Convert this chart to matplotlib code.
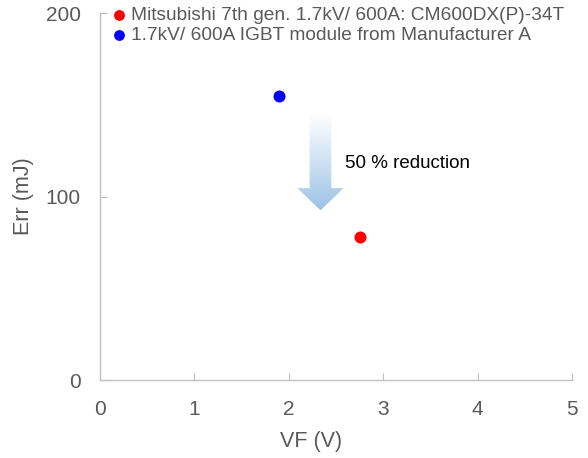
import matplotlib
matplotlib.use("Agg")
import matplotlib.pyplot as plt
import numpy as np
from matplotlib.patches import Polygon

plt.rcParams['font.family'] = ['Liberation Sans', 'DejaVu Sans']

series_names = ["Mitsubishi 7th gen. 1.7kV/ 600A: CM600DX(P)-34T",
                "1.7kV/ 600A IGBT module from Manufacturer A"]
series_vf = [2.75, 1.9]
series_err = [78, 155]
series_colors = ["#ff0000", "#0000ff"]
x_ticks = [0, 1, 2, 3, 4, 5]
y_ticks = [0, 100, 200]
annotation_text = "50 % reduction"

fig = plt.figure(figsize=(5.88, 4.58), dpi=100)
ax = fig.add_axes([0.170, 0.170, 0.803, 0.8016])
ax.set_xlim(0, 5)
ax.set_ylim(0, 200)

for name, x, y, c in zip(series_names, series_vf, series_err, series_colors):
    ax.scatter([x], [y], s=75, color=c, label=name, zorder=3, linewidths=0)

# gradient arrow
ax_x0, ax_y_top, ax_y_tip, ax_y_head = 2.335, 144.5, 92.5, 104.6
shaft_hw, head_hw = 0.115, 0.245
verts = [(ax_x0 - shaft_hw, ax_y_top), (ax_x0 + shaft_hw, ax_y_top),
         (ax_x0 + shaft_hw, ax_y_head), (ax_x0 + head_hw, ax_y_head),
         (ax_x0, ax_y_tip), (ax_x0 - head_hw, ax_y_head),
         (ax_x0 - shaft_hw, ax_y_head)]
poly = Polygon(verts, closed=True, facecolor='none', edgecolor='none')
ax.add_patch(poly)
grad = np.linspace(0, 1, 256).reshape(-1, 1)
top_c = np.array([1.0, 1.0, 1.0])
bot_c = np.array([0x9d, 0xc3, 0xe6]) / 255.0
img = top_c[None, None, :] * (1 - grad[:, :, None]) + bot_c[None, None, :] * grad[:, :, None]
im = ax.imshow(img, extent=[ax_x0 - head_hw, ax_x0 + head_hw, ax_y_tip, ax_y_top],
               origin='upper', aspect='auto', zorder=2, interpolation='bilinear')
im.set_clip_path(poly)
ax.set_xlim(0, 5)
ax.set_ylim(0, 200)

ax.text(2.6, 118, annotation_text, fontsize=13.5, color='black', va='center', ha='left')

for s in ['top', 'right']:
    ax.spines[s].set_visible(False)
for s in ['left', 'bottom']:
    ax.spines[s].set_color('#bfbfbf')
    ax.spines[s].set_linewidth(1.0)

ax.set_xticks(x_ticks)
ax.set_yticks(y_ticks)
ax.tick_params(axis='both', direction='in', length=5, color='#bfbfbf',
               labelsize=15, labelcolor='#595959', pad=14)
ax.set_xlabel("VF (V)", fontsize=15.5, color='#595959')
ax.xaxis.set_label_coords(0.447, -0.166)
ax.xaxis.label.set_va('center')
ax.set_ylabel("Err (mJ)", fontsize=15.5, color='#595959', labelpad=8)

leg = ax.legend(loc='upper left', bbox_to_anchor=(0.0, 1.038), frameon=False,
                fontsize=13.8, handletextpad=0.0, handlelength=1.2,
                labelspacing=0.15, borderaxespad=0, labelcolor='#595959',
                markerscale=0.9)

fig.savefig("out.png", dpi=100)
